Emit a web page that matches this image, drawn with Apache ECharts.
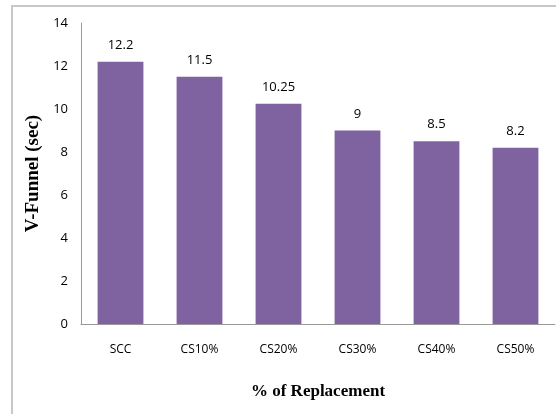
<!DOCTYPE html>
<html>
<head>
<meta charset="utf-8">
<script src="https://cdn.jsdelivr.net/npm/echarts@6/dist/echarts.min.js"></script>
<style>
  html, body { margin: 0; padding: 0; background: #fff; }
  #frame { position: absolute; left: 11px; top: 5px; width: 560px; height: 420px; border: 2px solid #c8c8c8; box-sizing: border-box; }
  #chart { width: 556px; height: 414px; position: absolute; left: 0; top: 0; }
</style>
</head>
<body>
<div id="frame"></div>
<div id="chart"></div>
<script>
    const categories = ["SCC", "CS10%", "CS20%", "CS30%", "CS40%", "CS50%"];
    const vFunnel = [12.2, 11.5, 10.25, 9, 8.5, 8.2];

    const chart = echarts.init(document.getElementById("chart"));
    chart.setOption({
        animation: false,
        grid: { left: 81, right: 1, top: 23, bottom: 90 },
        xAxis: {
            type: "category",
            data: categories,
            name: "% of Replacement",
            nameLocation: "middle",
            nameGap: 59,
            nameTextStyle: { fontFamily: "Liberation Serif", fontWeight: "bold", fontSize: 17, color: "#000" },
            axisLine: { lineStyle: { color: "#999" } },
            axisTick: { show: false },
            axisLabel: { margin: 20, fontFamily: "Open Sans", fontSize: 12, color: "#000" }
        },
        yAxis: {
            type: "value",
            min: 0,
            max: 14,
            interval: 2,
            name: "V-Funnel (sec)",
            nameLocation: "middle",
            nameGap: 29,
            nameRotate: 90,
            nameTextStyle: { fontFamily: "Liberation Serif", fontWeight: "bold", fontSize: 19, color: "#000" },
            axisLine: { show: true, lineStyle: { color: "#999" } },
            axisTick: { show: false },
            splitLine: { show: false },
            axisLabel: { margin: 13, fontFamily: "Open Sans", fontSize: 13, color: "#000" }
        },
        series: [{
            type: "bar",
            data: vFunnel,
            barWidth: "58%",
            itemStyle: { color: "#7f63a1" },
            label: {
                show: true,
                position: "top",
                distance: 10,
                fontFamily: "Open Sans",
                fontSize: 13,
                color: "#000"
            }
        }]
    });
</script>
</body>
</html>
